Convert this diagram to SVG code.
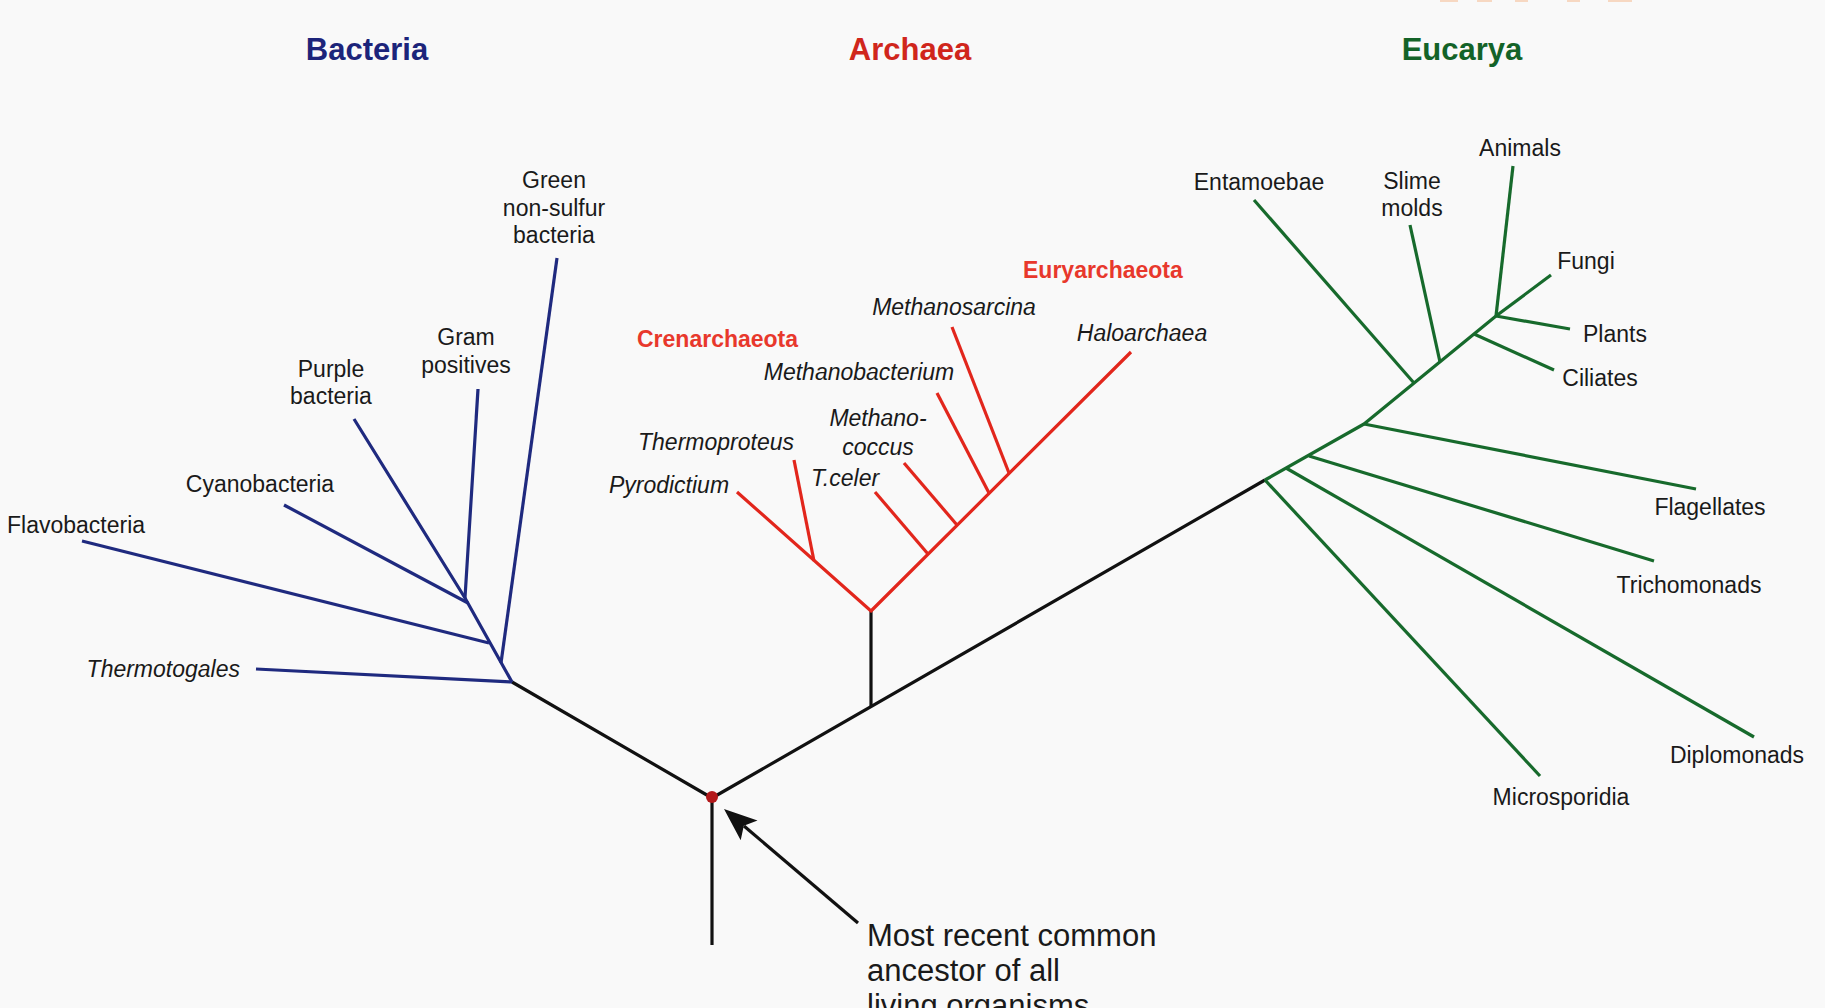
<svg xmlns="http://www.w3.org/2000/svg" width="1825" height="1008" viewBox="0 0 1825 1008">
  <style>
    text { font-family: "Liberation Sans", Arial, Helvetica, sans-serif; fill: #1a1a1a; }
    .title { font-size: 31px; font-weight: bold; text-anchor: middle; }
    .lbl { font-size: 23px; }
    .mid { text-anchor: middle; }
    .end { text-anchor: end; }
    .it { font-style: italic; }
    .grp { font-size: 23px; font-weight: bold; fill: #e8382c; }
    .note { font-size: 31px; }
    .b { stroke: #1f2a7f; }
    .r { stroke: #e2261c; }
    .g { stroke: #176a2c; }
    .k { stroke: #111111; }
    .br { fill: none; stroke-width: 3.2; stroke-linecap: butt; stroke-linejoin: round; }
  </style>

  <rect width="1825" height="1008" fill="#f9f9f9"/>

  <!-- clipped fragments along the top edge -->
  <g fill="#f6b88c" opacity="0.5">
    <rect x="1440" y="0" width="18" height="2"/>
    <rect x="1477" y="0" width="15" height="2"/>
    <rect x="1515" y="0" width="13" height="2"/>
    <rect x="1567" y="0" width="13" height="2"/>
    <rect x="1608" y="0" width="24" height="2"/>
  </g>

  <!-- domain titles -->
  <g id="bacteria-title"><text class="title" x="367" y="60" style="fill:#1c247a">Bacteria</text></g>
  <g id="archaea-title"><text class="title" x="910" y="60" style="fill:#d0261c">Archaea</text></g>
  <g id="eucarya-title"><text class="title" x="1462" y="60" style="fill:#136328">Eucarya</text></g>

  <!-- branches -->
  <g id="connectors">
    <!-- root and trunk -->
    <polyline class="br k" points="512,682 712,798 1265,480"/>
    <line class="br k" x1="712" y1="798" x2="712" y2="945"/>
    <line class="br k" x1="871" y1="706" x2="871" y2="611"/>

    <!-- Bacteria -->
    <polyline class="br b" points="354,419 465,598 512,682"/>
    <line class="br b" x1="465" y1="598" x2="478" y2="389"/>
    <line class="br b" x1="468" y1="603" x2="284" y2="505"/>
    <line class="br b" x1="489" y1="643" x2="82" y2="541"/>
    <line class="br b" x1="501" y1="663" x2="557" y2="258"/>
    <line class="br b" x1="512" y1="682" x2="256" y2="669"/>

    <!-- Archaea -->
    <polyline class="br r" points="737,492 871,611 1131,352"/>
    <line class="br r" x1="814" y1="561" x2="794" y2="460"/>
    <line class="br r" x1="928" y1="554" x2="875" y2="492"/>
    <line class="br r" x1="957" y1="525" x2="904" y2="463"/>
    <line class="br r" x1="989" y1="493" x2="937" y2="393"/>
    <line class="br r" x1="1009" y1="473" x2="952" y2="327"/>

    <!-- Eucarya -->
    <polyline class="br g" points="1265,480 1364,424 1496,316"/>
    <line class="br g" x1="1265" y1="480" x2="1540" y2="776"/>
    <line class="br g" x1="1286" y1="468" x2="1754" y2="737"/>
    <line class="br g" x1="1309" y1="456" x2="1654" y2="561"/>
    <line class="br g" x1="1364" y1="424" x2="1696" y2="489"/>
    <line class="br g" x1="1414" y1="383" x2="1254" y2="200"/>
    <line class="br g" x1="1440" y1="362" x2="1410" y2="225"/>
    <line class="br g" x1="1474" y1="334" x2="1554" y2="370"/>
    <line class="br g" x1="1496" y1="316" x2="1570" y2="329"/>
    <line class="br g" x1="1496" y1="316" x2="1551" y2="275"/>
    <line class="br g" x1="1496" y1="316" x2="1513" y2="166"/>

    <!-- pointer to the root -->
    <line x1="858" y1="923" x2="744" y2="826" stroke="#111" stroke-width="3.2"/>
    <polygon points="724,809 757.5,820.5 743.8,825.8 740.7,840.3" fill="#111"/>
  </g>

  <!-- root node -->
  <g id="root"><circle cx="712" cy="797" r="6" fill="#b3191b"/></g>

  <!-- Bacteria labels -->
  <g id="green-non-sulfur"><text class="lbl mid" x="554" y="188">Green</text><text class="lbl mid" x="554" y="216">non-sulfur</text><text class="lbl mid" x="554" y="243">bacteria</text></g>
  <g id="gram-positives"><text class="lbl mid" x="466" y="345">Gram</text><text class="lbl mid" x="466" y="373">positives</text></g>
  <g id="purple-bacteria"><text class="lbl mid" x="331" y="377">Purple</text><text class="lbl mid" x="331" y="404">bacteria</text></g>
  <g id="cyanobacteria"><text class="lbl mid" x="260" y="492">Cyanobacteria</text></g>
  <g id="flavobacteria"><text class="lbl" x="7" y="533">Flavobacteria</text></g>
  <g id="thermotogales"><text class="lbl it end" x="240" y="677">Thermotogales</text></g>

  <!-- Archaea labels -->
  <g id="crenarchaeota"><text class="grp" x="637" y="347">Crenarchaeota</text></g>
  <g id="euryarchaeota"><text class="grp" x="1023" y="278">Euryarchaeota</text></g>
  <g id="methanosarcina"><text class="lbl it mid" x="954" y="315">Methanosarcina</text></g>
  <g id="haloarchaea"><text class="lbl it mid" x="1142" y="341">Haloarchaea</text></g>
  <g id="methanobacterium"><text class="lbl it mid" x="859" y="380">Methanobacterium</text></g>
  <g id="methanococcus"><text class="lbl it mid" x="878" y="426">Methano-</text><text class="lbl it mid" x="878" y="455">coccus</text></g>
  <g id="thermoproteus"><text class="lbl it mid" x="716" y="450">Thermoproteus</text></g>
  <g id="t-celer"><text class="lbl it mid" x="845" y="486">T.celer</text></g>
  <g id="pyrodictium"><text class="lbl it mid" x="669" y="493">Pyrodictium</text></g>

  <!-- Eucarya labels -->
  <g id="entamoebae"><text class="lbl mid" x="1259" y="190">Entamoebae</text></g>
  <g id="slime-molds"><text class="lbl mid" x="1412" y="189">Slime</text><text class="lbl mid" x="1412" y="216">molds</text></g>
  <g id="animals"><text class="lbl mid" x="1520" y="156">Animals</text></g>
  <g id="fungi"><text class="lbl mid" x="1586" y="269">Fungi</text></g>
  <g id="plants"><text class="lbl mid" x="1615" y="342">Plants</text></g>
  <g id="ciliates"><text class="lbl mid" x="1600" y="386">Ciliates</text></g>
  <g id="flagellates"><text class="lbl mid" x="1710" y="515">Flagellates</text></g>
  <g id="trichomonads"><text class="lbl mid" x="1689" y="593">Trichomonads</text></g>
  <g id="diplomonads"><text class="lbl mid" x="1737" y="763">Diplomonads</text></g>
  <g id="microsporidia"><text class="lbl mid" x="1561" y="805">Microsporidia</text></g>

  <!-- root annotation; the last line runs off the bottom edge -->
  <g id="ancestor-note">
    <text class="note" x="867" y="946">Most recent common</text>
    <text class="note" x="867" y="981">ancestor of all</text>
    <text class="note" x="867" y="1016">living organisms</text>
  </g>
</svg>
